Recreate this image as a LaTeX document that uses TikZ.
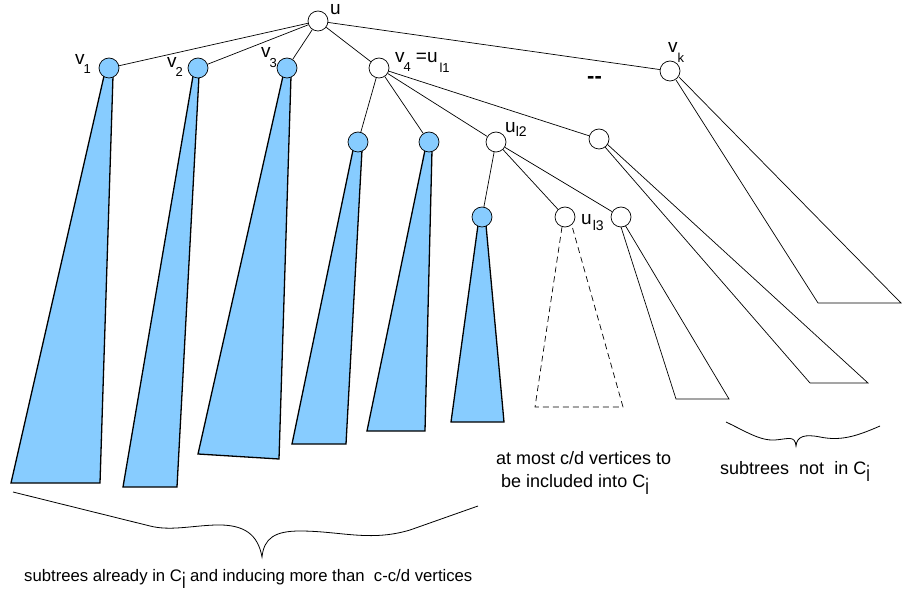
\documentclass[tikz,border=0pt]{standalone}
\usepackage{fontspec}
\setmainfont{Liberation Sans}
\usepackage{graphicx}
\usetikzlibrary{backgrounds}
\definecolor{subblue}{RGB}{135,204,255}
% lowered subscript for vertex labels: #1 = drop, #2 = text
\newcommand\lsub[2]{\raisebox{-#1}{\fontsize{13}{13}\selectfont #2}}
% C with a tall lowered index i
\newcommand\Ci{C\raisebox{-7pt}{\scalebox{1}[1.4]{\fontsize{16}{16}\selectfont i}}}
\tikzset{
  vert/.style={circle, draw, line width=0.7pt, minimum size=20pt, inner sep=0pt, fill=white},
  bluevert/.style={vert, fill=subblue},
  edge/.style={line width=0.7pt},
  done/.style={fill=subblue, draw, line width=1.3pt, line join=miter},
  opentree/.style={draw, line width=0.7pt},
  dashtree/.style={draw, line width=0.7pt, dash pattern=on 6pt off 4pt},
  lab/.style={anchor=base west, inner sep=0pt, font=\fontsize{19}{19}\selectfont},
  txt/.style={anchor=base west, inner sep=0pt, font=\fontsize{18}{24}\selectfont},
  brace/.style={line width=0.8pt}
}
\begin{document}
\begin{tikzpicture}[x=1pt,y=-1pt]
\useasboundingbox (0,0) rectangle (902,593);

% vertices
\node[vert]     (u)   at (318,21)  {};
\node[bluevert] (v1)  at (109,68)  {};
\node[bluevert] (v2)  at (198,68)  {};
\node[bluevert] (v3)  at (287,68)  {};
\node[vert]     (v4)  at (379,68)  {};
\node[vert]     (vk)  at (670,71)  {};
\node[bluevert] (va)  at (358,142) {};
\node[bluevert] (vb)  at (429,142) {};
\node[vert]     (ul2) at (496,142) {};
\node[vert]     (vw)  at (599,139) {};
\node[bluevert] (vc)  at (482,217) {};
\node[vert]     (ul3) at (565,217) {};
\node[vert]     (vx)  at (621,217) {};

% tree edges
\draw[edge] (u) -- (v1);
\draw[edge] (u) -- (v2);
\draw[edge] (u) -- (v3);
\draw[edge] (u) -- (v4);
\draw[edge] (u) -- (vk);
\draw[edge] (v4) -- (va);
\draw[edge] (v4) -- (vb);
\draw[edge] (v4) -- (ul2);
\draw[edge] (v4) -- (vw);
\draw[edge] (ul2) -- (vc);
\draw[edge] (ul2) -- (ul3);
\draw[edge] (ul2) -- (vx);

% subtrees
\begin{scope}[on background layer]
  \path[done] (104,76) -- (11,483) -- (100,483) -- (113,76) -- cycle;
  \path[done] (193,76) -- (123,487) -- (177,487) -- (199,76) -- cycle;
  \path[done] (283,76) -- (198,454) -- (279,459) -- (291,76) -- cycle;
  \path[done] (353,150) -- (292,444) -- (346,444) -- (362,150) -- cycle;
  \path[done] (425,150) -- (367,431) -- (425,431) -- (432,150) -- cycle;
  \path[done] (478,225) -- (451,422) -- (504,422) -- (486,225) -- cycle;
  \path[dashtree] (562,227) -- (535,407) -- (623,407) -- (572,226);
  \path[opentree] (621,227) -- (676,399) -- (729,399) -- (625,225);
  \path[opentree] (605,147) -- (810,383) -- (868,383) -- (607,144);
  \path[opentree] (676,80) -- (818,303) -- (901,303) -- (679,77);
\end{scope}

% vertex labels
\node[lab] (lu)   at (330,15) {u};
\node[lab] (lv1)  at (75,65)  {v\kern-1pt\lsub{9pt}{1}};
\node[lab] (lv2)  at (167,68) {v\kern-1pt\lsub{9pt}{2}};
\node[lab] (lv3)  at (261,58) {v\kern-1pt\lsub{10pt}{3}};
\node[lab] (lv4)  at (395,63) {v\kern-1pt\lsub{9pt}{4}\hspace{5pt}=u\kern2pt\lsub{10pt}{l1}};
\node[lab] (lvk)  at (668,53) {v\lsub{10pt}{k}};
\node[lab] (lul2) at (505,133) {u\lsub{4pt}{\fontsize{14}{14}\selectfont l2}};
\node[lab] (lul3) at (581,225) {u\kern1pt\lsub{6pt}{\fontsize{14}{14}\selectfont l3}};
\node[anchor=base west, inner sep=0pt, font=\fontsize{22}{22}\selectfont\bfseries] (dots) at (587,84) {-{}-};

% braces
\draw[brace] (13,492) -- (150,526) .. controls (170,531) and (190,526) .. (215,525)
  .. controls (245,524) and (258,535) .. (262,557)
  .. controls (264,538) and (275,531) .. (300,531)
  .. controls (340,531) and (370,542) .. (410,530) -- (478,506);
\draw[brace] (726,422) .. controls (745,431) and (760,441) .. (775,440)
  .. controls (788,439) and (795,435) .. (796,446)
  .. controls (797,436) and (805,434) .. (820,437)
  .. controls (840,441) and (855,437) .. (880,426);

% captions
\node[txt] (t1) at (496,464) {at most c/d vertices to};
\node[txt] (t2) at (501,487) {be included into \Ci};
\node[txt] (t3) at (720,474) {subtrees\ \ not\ \ in \Ci};
\node[txt, font=\fontsize{16.7}{20}\selectfont] (t4) at (24,581) {subtrees already in \Ci\ and inducing more than\ \ c-c/d vertices};
\end{tikzpicture}
\end{document}
